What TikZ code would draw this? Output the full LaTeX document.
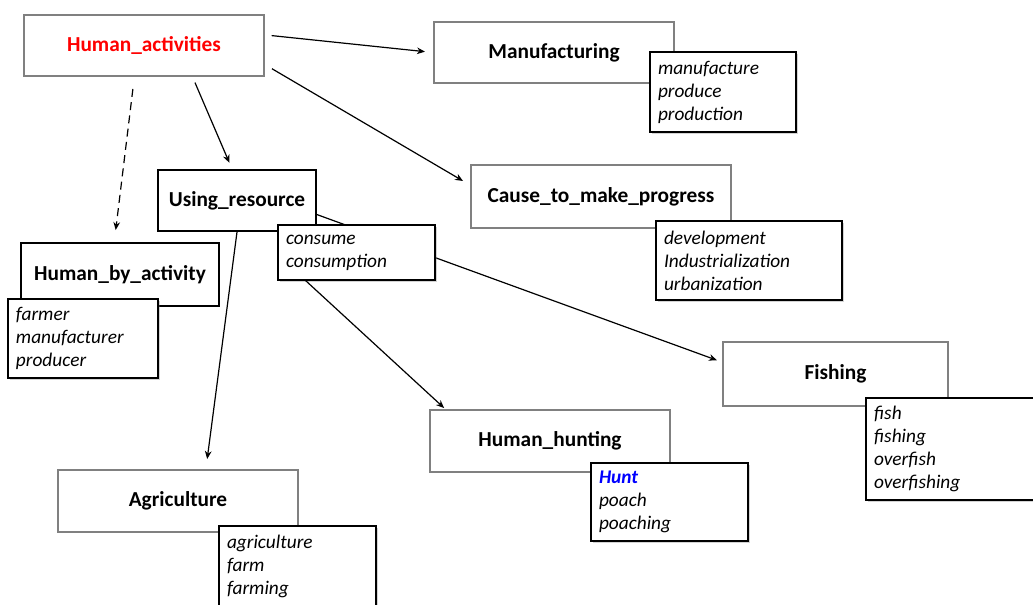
\documentclass[tikz,border=0pt]{standalone}
\usepackage{fontspec}
\setmainfont{Carlito}
\usetikzlibrary{arrows.meta,shadows}
\definecolor{gris}{RGB}{128,128,128}

\tikzstyle{marco}= [rectangle,draw=gris,line width=1.6pt,fill=white,inner sep=0pt,font=\fontsize{16}{19}\selectfont\bfseries]
\tikzstyle{marconegro}= [marco,draw=black]
\tikzstyle{lista}= [rectangle,draw=black,line width=1pt,fill=white,inner xsep=6pt,inner ysep=0pt,align=left,font=\fontsize{14.5}{17.25}\selectfont\itshape,drop shadow={opacity=0.35,shadow xshift=1.5pt,shadow yshift=-1.5pt}]
\tikzstyle{flecha}= [-{Stealth[length=6pt,width=5pt]},line width=0.9pt]

\begin{document}
\begin{tikzpicture}[x=0.75pt,y=-0.75pt]
		\useasboundingbox (0,0) rectangle (1033,605);

		\node (ha) at (144,45.5) [marco,minimum width=180pt,minimum height=45.75pt] {\color{red}{Human\_activities}};
		\node (manuf) at (554,52.5) [marco,minimum width=180pt,minimum height=45.75pt] {Manufacturing};
		\node (cause) at (601,196.5) [marco,minimum width=195pt,minimum height=47.25pt] {Cause\_to\_make\_progress};
		\node (using) at (237,200.5) [marconegro,minimum width=118.5pt,minimum height=45.75pt] {Using\_resource};
		\node (hba) at (120,274.5) [marconegro,minimum width=148.5pt,minimum height=47.25pt] {Human\_by\_activity};
		\node (fish) at (835.5,374) [marco,minimum width=168.75pt,minimum height=48pt] {Fishing};
		\node (hunt) at (550,441) [marco,minimum width=180pt,minimum height=46.5pt] {Human\_hunting};
		\node (agri) at (178,501) [marco,minimum width=180pt,minimum height=46.5pt] {Agriculture};

		\path (ha.5) edge[flecha,shorten <=5pt,shorten >=6pt] (manuf.180);
		\path (ha.-9) edge[flecha,shorten <=6pt,shorten >=6pt] (cause.175);
		\path (ha.-33) edge[flecha,shorten <=4.5pt,shorten >=5pt] (using.99);
		\path (ha.-107) edge[flecha,dash pattern=on 6pt off 4pt,shorten <=9pt,shorten >=9pt] (hba.100);
		\path (using.south) edge[flecha,shorten >=7.5pt] (agri.49);
		\path (using.-10) edge[flecha,shorten >=4pt] (fish.174);

		\node (lmanuf) at (723,92) [lista,text width=97.5pt,minimum height=60pt] {manufacture\\produce\\production};
		\node (lcause) at (749,260.5) [lista,text width=127.5pt,minimum height=59.25pt] {development\\Industrialization\\urbanization};
		\node (lusing) at (356.5,252.5) [lista,text width=105.75pt,minimum height=41.25pt] {consume\\consumption};
		\node (lhba) at (83,338.5) [lista,text width=100.5pt,minimum height=59.25pt] {farmer\\manufacturer\\producer};
		\node (lfish) at (955,449) [lista,text width=121.5pt,minimum height=76.5pt] {fish\\fishing\\overfish\\overfishing};
		\node (lhunt) at (669.5,502) [lista,text width=105.75pt,minimum height=58.5pt] {\textcolor{blue}{\bfseries Hunt}\\poach\\poaching};
		\node (lagri) at (297.5,566) [lista,text width=105.75pt,minimum height=60pt] {agriculture\\farm\\farming};

		\path (lusing.-151) edge[flecha,shorten >=1pt] (hunt.163);
\end{tikzpicture}
\end{document}
